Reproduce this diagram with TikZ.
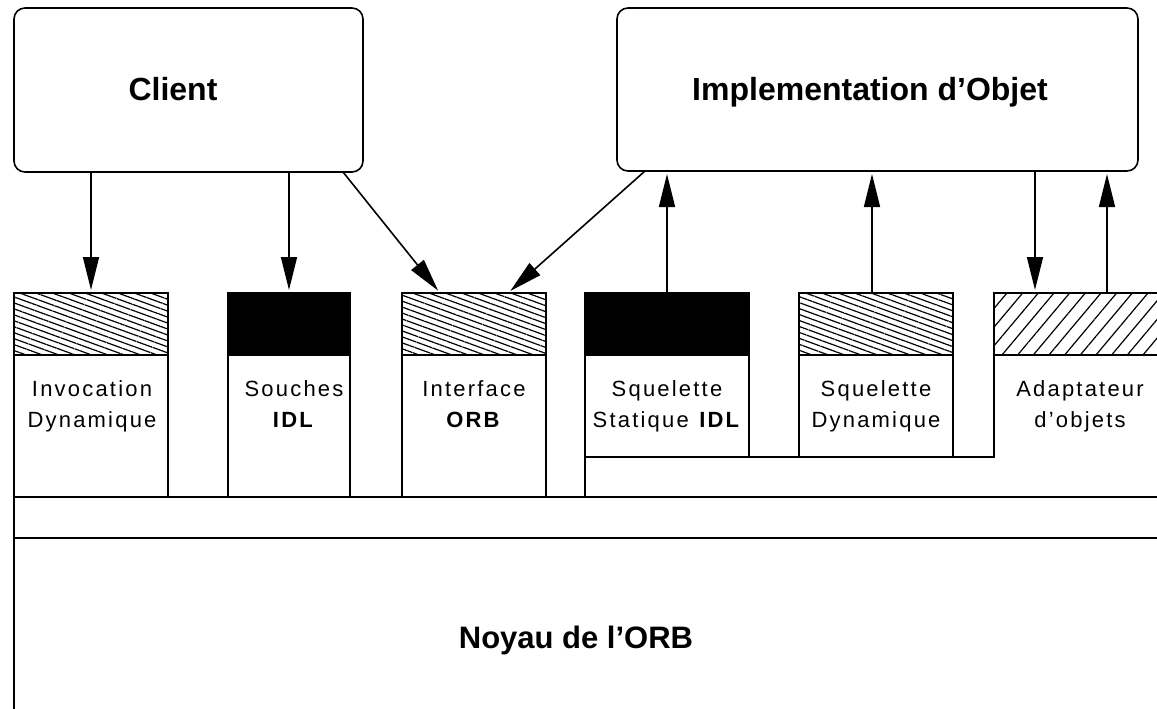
\documentclass[tikz,border=0pt]{standalone}
\usepackage{fontspec}
\setmainfont{Liberation Sans}
\usetikzlibrary{arrows.meta,patterns.meta}

\begin{document}
\begin{tikzpicture}[x=1pt,y=-1pt,line width=1.6pt,
  every node/.style={inner sep=0pt, outer sep=0pt},
  topbox/.style={draw, rounded corners=11pt},
  title/.style={font=\fontsize{32}{36}\selectfont\bfseries, anchor=base},
  capbox/.style={draw, minimum height=62pt},
  solidcap/.style={capbox, fill=black},
  backcap/.style={capbox, pattern={Lines[angle=-20,distance=5.6pt,line width=1.2pt]}},
  slashcap/.style={capbox, pattern={Lines[angle=50,distance=12pt,line width=1.2pt]}},
  body/.style={draw},
  lbl/.style={align=center, anchor=base,
    font=\fontsize{22}{31}\selectfont\addfontfeature{LetterSpace=10}},
  arr/.style={-{Triangle[length=33pt,width=16pt]}, shorten >=3pt},
]
\useasboundingbox (0,0) rectangle (1157,709);
\clip (0,0) rectangle (1157,709);

% client and object implementation
\node[topbox, minimum width=349pt, minimum height=164pt] (client) at (188.5,90) {};
\node[title] (clientt) at (173,100) {Client};
\node[topbox, minimum width=521pt, minimum height=163pt] (impl) at (877.5,89.5) {};
\node[title] (implt) at (870,100) {Implementation d'Objet};

% ORB components: cap and body
\node[backcap, minimum width=154pt] (invh) at (91,324) {};
\node[body, minimum width=154pt, minimum height=142pt, anchor=north] (invb) at (invh.south) {};
\node[solidcap, minimum width=122pt] (souh) at (289,324) {};
\node[body, minimum width=122pt, minimum height=142pt, anchor=north] (soub) at (souh.south) {};
\node[backcap, minimum width=144pt] (itfh) at (474,324) {};
\node[body, minimum width=144pt, minimum height=142pt, anchor=north] (itfb) at (itfh.south) {};
\node[solidcap, minimum width=164pt] (ssth) at (667,324) {};
\node[body, minimum width=164pt, minimum height=102pt, anchor=north] (sstb) at (ssth.south) {};
\node[backcap, minimum width=154pt] (sdyh) at (876,324) {};
\node[body, minimum width=154pt, minimum height=102pt, anchor=north] (sdyb) at (sdyh.south) {};
\node[slashcap, minimum width=200pt, anchor=west] (adah) at (994,324) {};
\coordinate (adabase) at (994,457);

% bus and ORB core
\coordinate (busl) at (14,497);
\coordinate (busr) at (1162,497);
\coordinate (corel) at (14,538);
\coordinate (corer) at (1162,538);
\coordinate (edgebot) at (14,714);
\draw (busl) -- (busr);
\draw (corel) -- (corer);
\draw (invb.south west) -- (edgebot);
\draw (sstb.south west) -- (sstb.south west |- busl);
\draw (sstb.south west) -- (adabase) -- (adah.south west);

% labels (anchored on the baseline of their last line)
\node[lbl] (invt) at (92,427) {Invocation\\Dynamique};
\node[lbl] (sout) at (294,427) {Souches\\\textbf{IDL}};
\node[lbl] (itft) at (474,427) {Interface\\\textbf{ORB}};
\node[lbl] (sstt) at (667,427) {Squelette\\Statique \textbf{IDL}};
\node[lbl] (sdyt) at (876,427) {Squelette\\Dynamique};
\node[lbl] (adat) at (1080,427) {Adaptateur\\d'objets};
\node[font=\fontsize{31}{36}\selectfont\bfseries, anchor=base] (core) at (576,648) {Noyau de l’ORB};

% calls and up-calls
\coordinate (adain) at ([xshift=41pt]adah.north west);
\coordinate (adaout) at ([xshift=113pt]adah.north west);
\coordinate (sdyout) at ([xshift=-4pt]sdyh.north);
\draw[arr] (client.south -| invh.north) -- (invh.north);
\draw[arr] (client.south -| souh.north) -- (souh.north);
\draw[arr] ([xshift=-20pt]client.south east) -- ([xshift=-34pt]itfh.north);
\draw[arr] ([xshift=28pt]impl.south west) -- ([xshift=34pt]itfh.north);
\draw[arr] (ssth.north) -- (ssth.north |- impl.south);
\draw[arr] (sdyout) -- (sdyout |- impl.south);
\draw[arr] (adain |- impl.south) -- (adain);
\draw[arr] (adaout) -- (adaout |- impl.south);
\end{tikzpicture}
\end{document}
